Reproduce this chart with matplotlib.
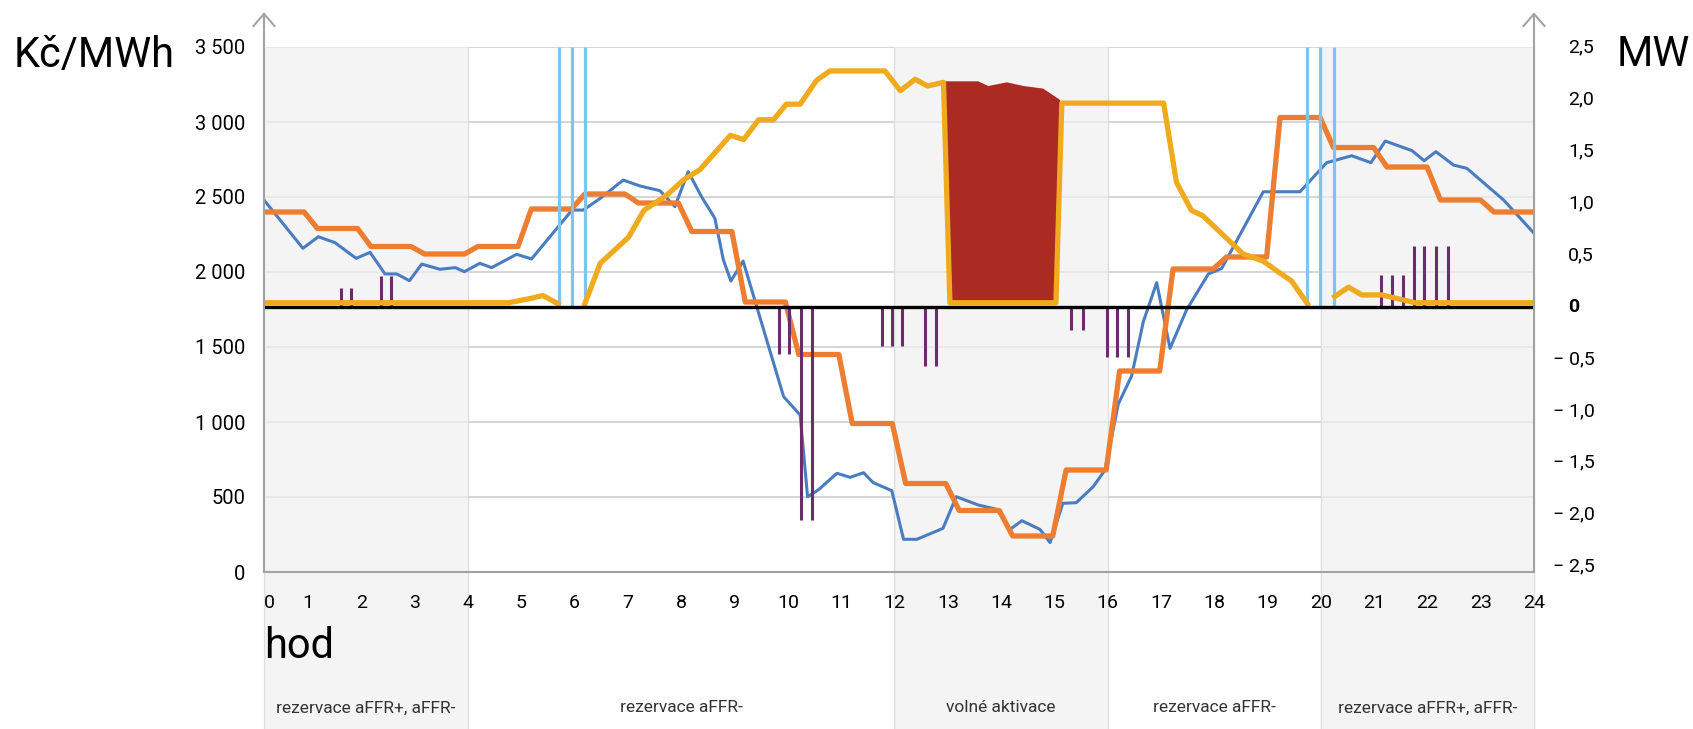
import numpy as np
import matplotlib.pyplot as plt
from matplotlib.patches import Rectangle
from matplotlib.transforms import blended_transform_factory

plt.rcParams['font.family'] = ['Roboto', 'DejaVu Sans']

# price, Kč/MWh (left axis)
blue_t = [0.17, 0.90, 1.19, 1.50, 1.90, 2.16, 2.44, 2.66, 2.90, 3.13, 3.47, 3.76, 3.93, 4.22, 4.44,
          4.91, 5.19, 5.95, 6.16, 6.48, 6.91, 7.23, 7.60, 7.88, 8.13, 8.38, 8.63, 8.79, 8.93, 9.16,
          9.92, 10.23, 10.37, 10.57, 10.92, 11.17, 11.42, 11.60, 11.95, 12.17, 12.42, 12.91, 13.16,
          13.57, 13.92, 14.17, 14.39, 14.73, 14.92, 15.16, 15.41, 15.73, 15.95, 16.20, 16.45, 16.67,
          16.92, 17.17, 17.48, 17.89, 18.14, 18.92, 19.61, 20.11, 20.58, 20.94, 21.21, 21.71, 21.94,
          22.16, 22.49, 22.74, 23.43, 24.0]
blue_v = [2480, 2158, 2235, 2196, 2091, 2131, 1987, 1987, 1942, 2053, 2018, 2029, 2002, 2058, 2029,
          2118, 2087, 2413, 2413, 2491, 2613, 2573, 2542, 2436, 2669, 2502, 2358, 2080, 1940, 2073,
          1169, 1047, 502, 547, 658, 631, 662, 596, 542, 218, 218, 291, 502,
          447, 418, 284, 342, 284, 196, 458, 462, 569, 680, 1120, 1307, 1669,
          1929, 1491, 1747, 1987, 2024, 2535, 2535, 2729, 2775, 2729, 2873, 2809, 2742,
          2802, 2713, 2691, 2480, 2258]

orange_hourly = [2400, 2290, 2170, 2120, 2170, 2420, 2520, 2460, 2270, 1800, 1450, 990,
                 590, 410, 240, 680, 1340, 2020, 2100, 3030, 2830, 2700, 2480, 2400]

# MW (right axis)
yellow_t = [0.17, 4.76, 5.16, 5.40, 5.69, 5.94, 6.19, 6.48, 7.01, 7.30, 7.54, 7.76, 8.04, 8.35, 8.92,
            9.17, 9.45, 9.73, 9.97, 10.23, 10.54, 10.79, 11.82, 12.11, 12.39, 12.62, 12.92, 13.04,
            15.03, 15.14, 17.05, 17.29, 17.57, 17.79, 18.54, 18.92, 19.22, 19.45, 19.75, 20.0,
            20.26, 20.52, 20.77, 21.15, 21.77, 24.0]
yellow_v = [0.04, 0.04, 0.08, 0.11, 0.03, np.nan, 0.03, 0.42, 0.67, 0.93, 1.01, 1.09, 1.22, 1.32, 1.65,
            1.61, 1.80, 1.80, 1.95, 1.95, 2.18, 2.27, 2.27, 2.08, 2.19, 2.125, 2.16, 0.04,
            0.04, 1.96, 1.96, 1.20, 0.93, 0.875, 0.51, 0.44, 0.33, 0.25, 0.03, np.nan,
            0.10, 0.19, 0.115, 0.115, 0.04, 0.04]

red_t = [12.95, 13.57, 13.76, 14.11, 14.42, 14.79, 15.11]
red_v = [2.17, 2.17, 2.125, 2.16, 2.125, 2.10, 1.99]

purple_t = [1.61, 1.80, 2.36, 2.55, 9.83, 10.03, 10.24, 10.46, 11.76, 11.95, 12.15, 12.57, 12.78,
            15.32, 15.53, 15.98, 16.17, 16.39, 21.13, 21.33, 21.54, 21.75, 21.94, 22.16, 22.38]
purple_v = [0.18, 0.18, 0.30, 0.30, -0.45, -0.45, -2.05, -2.05, -0.375, -0.375, -0.375, -0.57, -0.57,
            -0.22, -0.22, -0.48, -0.48, -0.48, 0.31, 0.31, 0.31, 0.59, 0.59, 0.59, 0.59]

lightblue_t = [5.71, 5.95, 6.20, 19.75, 19.98, 20.24]
lightblue_v = [2.5, 2.5, 2.5, 2.5, 2.5, 2.5]

bands = [(0, 4, True, 'rezervace aFFR+, aFFR-'),
         (4, 12, False, 'rezervace aFFR-'),
         (12, 16, True, 'volné aktivace'),
         (16, 20, False, 'rezervace aFFR-'),
         (20, 24, True, 'rezervace aFFR+, aFFR-')]

kc_ticks = [0, 500, 1000, 1500, 2000, 2500, 3000, 3500]
kc_labels = ['0', '500', '1 000', '1 500', '2 000', '2 500', '3 000', '3 500']
mw_ticks = [2.5, 2.0, 1.5, 1.0, 0.5, 0, -0.5, -1.0, -1.5, -2.0, -2.5]
mw_labels = ['2,5', '2,0', '1,5', '1,0', '0,5', '0', '− 0,5', '− 1,0', '− 1,5', '− 2,0', '− 2,5']

BLUE = '#4a7dc0'
ORANGE = '#ed7d31'
YELLOW = '#efaa1d'
RED = '#ab2a22'
PURPLE = '#6b2c6b'
LIGHTBLUE = '#7dc5ef'
AXISGRAY = '#a3a3a3'

W, H = 1693, 729
fig = plt.figure(figsize=(W / 100, H / 100), dpi=100)
ax = fig.add_axes([264 / W, 1 - 572 / H, 1270 / W, 525 / H])
ax2 = ax.twinx()

x0lim = 0.17
ax.set_xlim(x0lim, 24)
ax.set_ylim(0, 3500)
ax2.set_ylim(-2.55, 2.5)

trans = blended_transform_factory(ax.transData, ax.transAxes)

# background bands and their labels below the axis
for a, b, shade, label in bands:
    a = max(a, x0lim)
    if shade:
        ax.add_patch(Rectangle((a, -0.32), b - a, 1.32, transform=trans, facecolor='#f4f4f4',
                               edgecolor='none', clip_on=False, zorder=0))
    else:
        ax.hlines(kc_ticks, a, b, colors='#d3d3d3', lw=1.2, zorder=0.7)
    ax.text((a + b) / 2, -0.259, label, transform=trans, ha='center', va='center',
            fontsize=12.5, color='#333333')
for x in [x0lim, 4, 12, 16, 20, 24]:
    ax.plot([x, x], [-0.32, 1], transform=trans, color='#dedede', lw=1, clip_on=False, zorder=0.5)

ax.hlines(kc_ticks, x0lim, 24, colors='#e6e6e6', lw=1.2, zorder=0.6)

# price lines
t96 = np.linspace(x0lim, 24, 96)
ax.plot(blue_t, blue_v, color=BLUE, lw=2.2, zorder=3)
ax.plot(t96, np.repeat(orange_hourly, 4), color=ORANGE, lw=3.8, zorder=4)

# MW series
ax2.vlines(lightblue_t, 0, lightblue_v, colors=LIGHTBLUE, lw=2.3, zorder=2)
ax2.vlines(purple_t, 0, purple_v, colors=PURPLE, lw=2.2, zorder=2)
ax2.fill(np.r_[red_t, 15.03, 13.04], np.r_[red_v, 0.04, 0.04], color=RED, lw=0, zorder=3)
ax2.plot(yellow_t, yellow_v, color=YELLOW, lw=3.8, zorder=4)
ax2.axhline(0, color='black', lw=2.4, zorder=5)

# axes frame
for a_ in (ax, ax2):
    for sp in a_.spines.values():
        sp.set_visible(False)
ax.spines['bottom'].set_visible(True)
ax.spines['bottom'].set_color(AXISGRAY)
ax.spines['bottom'].set_linewidth(1.5)
for xa in (0, 1):
    ax2.plot([xa, xa], [0, 1.063], transform=ax2.transAxes, color=AXISGRAY, lw=1.5,
             clip_on=False, zorder=6)
    ax2.plot([xa - 0.0083, xa, xa + 0.0083], [1.04, 1.063, 1.04], transform=ax2.transAxes,
             color=AXISGRAY, lw=1.5, clip_on=False, zorder=6)

ax.set_xticks([x0lim] + list(range(1, 25)), [str(h) for h in range(25)])
ax.tick_params(axis='x', length=0, pad=16, labelsize=14)
ax.get_xticklabels()[0].set_ha('left')
ax.set_yticks(kc_ticks, kc_labels)
ax.tick_params(axis='y', length=0, pad=13.5, labelsize=14.5)
ax2.set_yticks([])

rtrans = blended_transform_factory(ax2.transAxes, ax2.transData)
for v, s in zip(mw_ticks, mw_labels):
    ax2.text(1.015 if v < 0 else 1.0268, v, s, transform=rtrans, ha='left', va='center',
             fontsize=14, fontweight='bold' if v == 0 else 'normal')

fig.text(14 / W, 1 - 55 / H, 'Kč/MWh', fontsize=30, va='center', ha='left')
fig.text(1617 / W, 1 - 55 / H, 'MW', fontsize=30, va='center', ha='left')
ax.text(x0lim, -0.141, 'hod', transform=trans, fontsize=30, va='center', ha='left')

fig.savefig('out.png', dpi=100)
